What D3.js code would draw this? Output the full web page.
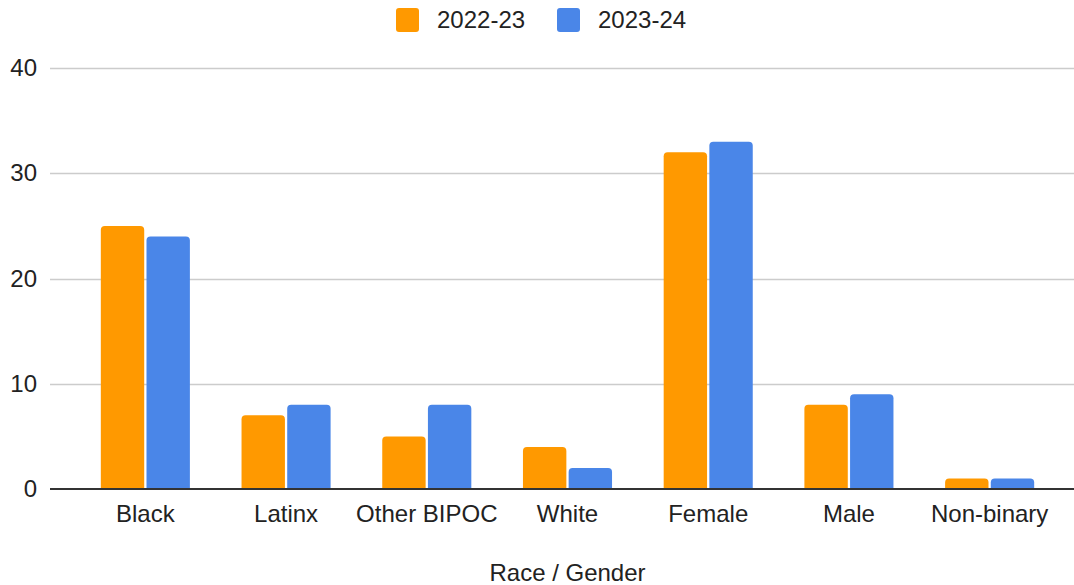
<!DOCTYPE html>
<html>
<head>
<meta charset="utf-8">
<script src="https://cdn.jsdelivr.net/npm/d3@7"></script>
<style>
  html, body { margin: 0; padding: 0; background: #fff; }
  svg { display: block; font-family: "Liberation Sans", Arial, Helvetica, sans-serif; }
</style>
</head>
<body>
<svg id="chart" width="1074" height="585"></svg>
<script>
// Headcount by race / gender, two school years
const categories = ["Black", "Latinx", "Other BIPOC", "White", "Female", "Male", "Non-binary"];
const seriesNames = ["2022-23", "2023-24"];
const values2022 = [25, 7, 5, 4, 32, 8, 1];
const values2023 = [24, 8, 8, 2, 33, 9, 1];
const seriesColors = ["#ff9900", "#4a86e8"];
const yTicks = [0, 10, 20, 30, 40];
const xTitle = "Race / Gender";

const seriesValues = [values2022, values2023];

const W = 1074, H = 585;
const svg = d3.select("#chart");

const gridLeft = 50, gridRight = 1074;
const y = d3.scaleLinear().domain([0, 40]).range([489, 68]);

const x0 = d3.scaleBand()
  .domain(categories)
  .range([75, 1060])
  .paddingInner(0.367)
  .paddingOuter(0.1835);

const x1 = d3.scaleBand()
  .domain(seriesNames)
  .range([0, x0.bandwidth()])
  .paddingInner(0.05);

// gridlines and y labels
const yAxis = d3.axisLeft(y).tickValues(yTicks).tickSize(0).tickPadding(0);
const gY = svg.append("g").attr("transform", `translate(${gridLeft},0)`).call(yAxis);
gY.select(".domain").remove();
gY.selectAll("text")
  .attr("x", -13)
  .attr("font-size", 24)
  .attr("fill", "#222")
  .attr("font-family", "Liberation Sans, Arial, sans-serif");

svg.append("g").selectAll("line")
  .data(yTicks.filter(t => t !== 0))
  .join("line")
  .attr("x1", gridLeft).attr("x2", gridRight)
  .attr("y1", d => Math.round(y(d)) + 0.5)
  .attr("y2", d => Math.round(y(d)) + 0.5)
  .attr("stroke", "#cccccc")
  .attr("stroke-width", 1.5);

// bars with rounded tops
function topRoundedRect(x, yTop, w, h, r) {
  r = Math.min(r, h, w / 2);
  const yb = yTop + h;
  return `M${x},${yb}V${yTop + r}Q${x},${yTop} ${x + r},${yTop}H${x + w - r}Q${x + w},${yTop} ${x + w},${yTop + r}V${yb}Z`;
}

const groups = svg.append("g").selectAll("g")
  .data(categories)
  .join("g")
  .attr("transform", d => `translate(${x0(d)},0)`);

groups.selectAll("path")
  .data((d, i) => seriesNames.map((s, k) => ({ s, k, v: seriesValues[k][i] })))
  .join("path")
  .attr("d", d => topRoundedRect(x1(d.s), y(d.v), x1.bandwidth(), y(0) - y(d.v), 4))
  .attr("fill", d => seriesColors[d.k]);

// baseline
svg.append("line")
  .attr("x1", gridLeft).attr("x2", gridRight)
  .attr("y1", y(0)).attr("y2", y(0))
  .attr("stroke", "#333").attr("stroke-width", 2);

// category labels
const xAxis = d3.axisBottom(x0).tickSize(0).tickPadding(0);
const gX = svg.append("g").attr("transform", `translate(0,${y(0)})`).call(xAxis);
gX.select(".domain").remove();
gX.selectAll("text")
  .attr("y", 16)
  .attr("dy", "0.71em")
  .attr("font-size", 24)
  .attr("fill", "#222")
  .attr("font-family", "Liberation Sans, Arial, sans-serif");

// axis title
svg.append("text")
  .attr("x", (75 + 1060) / 2)
  .attr("y", 573)
  .attr("dy", "0.35em")
  .attr("text-anchor", "middle")
  .attr("font-size", 24)
  .attr("fill", "#222")
  .text(xTitle);

// legend
const legendX = [396, 557];
const legend = svg.append("g").selectAll("g")
  .data(seriesNames)
  .join("g")
  .attr("transform", (d, i) => `translate(${legendX[i]},8)`);
legend.append("rect")
  .attr("width", 23).attr("height", 24).attr("rx", 3)
  .attr("fill", (d, i) => seriesColors[i]);
legend.append("text")
  .attr("x", 41).attr("y", 12).attr("dy", "0.35em")
  .attr("font-size", 24).attr("fill", "#222")
  .text(d => d);
</script>
</body>
</html>
